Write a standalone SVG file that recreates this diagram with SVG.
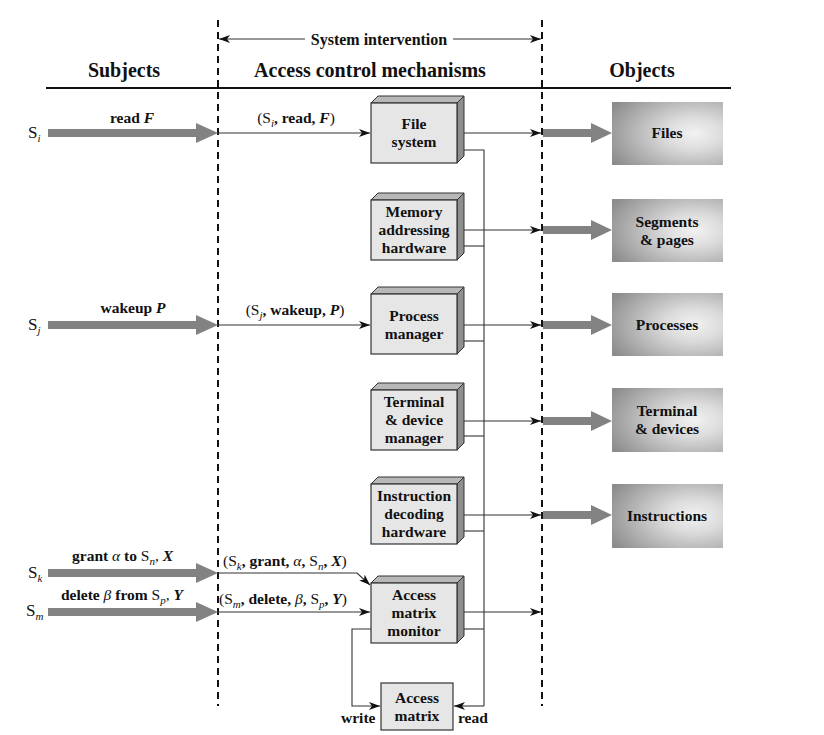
<svg xmlns="http://www.w3.org/2000/svg" width="824" height="735" viewBox="0 0 824 735">
<style>
text{font-family:"Liberation Serif","Times New Roman",serif;fill:#111}
.h{font-size:20px;font-weight:bold;text-anchor:middle}
.n{font-size:15.5px;font-weight:bold;text-anchor:middle}
.l{font-size:15.5px}
.b{font-weight:bold}
.i{font-style:italic}
.bi{font-weight:bold;font-style:italic}
.sub{font-style:italic;font-size:11px}
.front{fill:#e6e6e6;stroke:#333;stroke-width:1.2}
.top{fill:#b8b8b8;stroke:#333;stroke-width:1}
.side{fill:#8e8e8e;stroke:#333;stroke-width:1}
.obj{fill:url(#og)}
.thin{fill:none;stroke:#333;stroke-width:1.1}
.arr{marker-end:url(#ah)}
.thick{fill:#828282}
.dash{stroke:#111;stroke-width:2;stroke-dasharray:7 5;fill:none}
</style>
<defs>
<marker id="ah" markerWidth="11" markerHeight="8" refX="11" refY="4" orient="auto" markerUnits="userSpaceOnUse">
<path d="M0,0 L11,4 L0,8 L3,4 z" fill="#111"/>
</marker>
<radialGradient id="og" cx="0.74" cy="0.5" r="0.85">
<stop offset="0" stop-color="#f2f2f2"/>
<stop offset="0.3" stop-color="#dcdcdc"/>
<stop offset="0.65" stop-color="#b4b4b4"/>
<stop offset="1" stop-color="#8c8c8c"/>
</radialGradient>
</defs>
<rect width="824" height="735" fill="#fff"/>

<!-- frame -->
<g id="frame">
<line class="dash" x1="218" y1="20" x2="218" y2="706"/>
<line class="dash" x1="542" y1="20" x2="542" y2="706"/>
<line x1="46" y1="88" x2="731" y2="88" stroke="#111" stroke-width="2"/>
<text class="h" x="124" y="77">Subjects</text>
<text class="h" x="370" y="77">Access control mechanisms</text>
<text class="h" x="642" y="77">Objects</text>
<text x="379" y="45" style="font-size:16px;font-weight:bold;text-anchor:middle">System intervention</text>
<line class="thin arr" x1="305" y1="39" x2="219" y2="39"/>
<line class="thin arr" x1="453" y1="39" x2="541" y2="39"/>
</g>

<!-- subjects -->
<g id="subjects">
<text class="l" x="28" y="138" style="font-size:17px">S<tspan class="sub" dy="4">i</tspan></text>
<text class="l" x="28" y="330" style="font-size:17px">S<tspan class="sub" dy="4">j</tspan></text>
<text class="l" x="28" y="578" style="font-size:17px">S<tspan class="sub" dy="4">k</tspan></text>
<text class="l" x="26" y="616" style="font-size:17px">S<tspan class="sub" dy="4">m</tspan></text>
<text class="l b" x="132" y="123" text-anchor="middle">read <tspan class="bi">F</tspan></text>
<text class="l b" x="133" y="313" text-anchor="middle">wakeup <tspan class="bi">P</tspan></text>
<text class="l" x="72" y="561"><tspan class="b">grant </tspan><tspan class="i">α</tspan><tspan class="b"> to </tspan>S<tspan class="sub" dy="4">n</tspan><tspan dy="-4">, </tspan><tspan class="bi">X</tspan></text>
<text class="l" x="61" y="600"><tspan class="b">delete </tspan><tspan class="i">β</tspan><tspan class="b"> from </tspan>S<tspan class="sub" dy="4">p</tspan><tspan dy="-4">, </tspan><tspan class="bi">Y</tspan></text>
</g>

<!-- connectors -->
<g id="connectors">
<polygon class="thick" points="48,129 196,129 196,123 218,133 196,143 196,137 48,137"/>
<polygon class="thick" points="48,321 196,321 196,315 218,325 196,335 196,329 48,329"/>
<polygon class="thick" points="48,569 196,569 196,563 218,573 196,583 196,577 48,577"/>
<polygon class="thick" points="48,608 196,608 196,602 218,612 196,622 196,616 48,616"/>
<polygon class="thick" points="543,129 591,129 591,123 612,133 591,143 591,137 543,137"/>
<polygon class="thick" points="543,226 591,226 591,220 612,230 591,240 591,234 543,234"/>
<polygon class="thick" points="543,321 591,321 591,315 612,325 591,335 591,329 543,329"/>
<polygon class="thick" points="543,417 591,417 591,411 612,421 591,431 591,425 543,425"/>
<polygon class="thick" points="543,511 591,511 591,505 612,515 591,525 591,519 543,519"/>

<line class="thin arr" x1="218" y1="133" x2="370" y2="133"/>
<line class="thin arr" x1="218" y1="325" x2="370" y2="325"/>
<polyline class="thin arr" points="218,573 357,573 370,585"/>
<line class="thin arr" x1="218" y1="612" x2="370" y2="612"/>

<line class="thin arr" x1="460" y1="133" x2="541" y2="133"/>
<line class="thin arr" x1="460" y1="230" x2="541" y2="230"/>
<line class="thin arr" x1="460" y1="325" x2="541" y2="325"/>
<line class="thin arr" x1="460" y1="421" x2="541" y2="421"/>
<line class="thin arr" x1="460" y1="515" x2="541" y2="515"/>
<line class="thin arr" x1="460" y1="612" x2="541" y2="612"/>

<polyline class="thin" points="460,150 484,150 484,706"/>
<line class="thin" x1="460" y1="246" x2="484" y2="246"/>
<line class="thin" x1="460" y1="341" x2="484" y2="341"/>
<line class="thin" x1="460" y1="436" x2="484" y2="436"/>
<line class="thin" x1="460" y1="531" x2="484" y2="531"/>
<line class="thin" x1="460" y1="629" x2="484" y2="629"/>
<line class="thin arr" x1="484" y1="706" x2="454" y2="706"/>
<polyline class="thin arr" points="371,629 352,629 352,706 380,706"/>

<text class="l" x="296" y="123" text-anchor="middle">(S<tspan class="sub" dy="4">i</tspan><tspan class="b" dy="-4">, read, </tspan><tspan class="bi">F</tspan>)</text>
<text class="l" x="295" y="315" text-anchor="middle">(S<tspan class="sub" dy="4">j</tspan><tspan class="b" dy="-4">, wakeup, </tspan><tspan class="bi">P</tspan>)</text>
<text class="l" x="223" y="566">(S<tspan class="sub" dy="4">k</tspan><tspan class="b" dy="-4">, grant, </tspan><tspan class="i">α</tspan><tspan class="b">, </tspan>S<tspan class="sub" dy="4">n</tspan><tspan class="b" dy="-4">, </tspan><tspan class="bi">X</tspan>)</text>
<text class="l" x="219" y="604">(S<tspan class="sub" dy="4">m</tspan><tspan class="b" dy="-4">, delete, </tspan><tspan class="i">β</tspan><tspan class="b">, </tspan>S<tspan class="sub" dy="4">p</tspan><tspan class="b" dy="-4">, </tspan><tspan class="bi">Y</tspan>)</text>
<text class="l b" x="341" y="723">write</text>
<text class="l b" x="458" y="723">read</text>
</g>

<!-- mechanisms -->
<g id="file-system">
<polygon class="top" points="371,103 378,96 464,96 457,103"/>
<polygon class="side" points="457,103 464,96 464,156 457,163"/>
<rect class="front" x="371" y="103" width="86" height="60"/>
<text class="n" x="414" y="129">File</text>
<text class="n" x="414" y="147">system</text>
</g>
<g id="memory-addressing-hardware">
<polygon class="top" points="371,200 378,193 464,193 457,200"/>
<polygon class="side" points="457,200 464,193 464,253 457,260"/>
<rect class="front" x="371" y="200" width="86" height="60"/>
<text class="n" x="414" y="217">Memory</text>
<text class="n" x="414" y="235">addressing</text>
<text class="n" x="414" y="253">hardware</text>
</g>
<g id="process-manager">
<polygon class="top" points="371,294 378,287 464,287 457,294"/>
<polygon class="side" points="457,294 464,287 464,347 457,354"/>
<rect class="front" x="371" y="294" width="86" height="60"/>
<text class="n" x="414" y="321">Process</text>
<text class="n" x="414" y="339">manager</text>
</g>
<g id="terminal-device-manager">
<polygon class="top" points="371,390 378,383 464,383 457,390"/>
<polygon class="side" points="457,390 464,383 464,443 457,450"/>
<rect class="front" x="371" y="390" width="86" height="60"/>
<text class="n" x="414" y="407">Terminal</text>
<text class="n" x="414" y="425">&amp; device</text>
<text class="n" x="414" y="443">manager</text>
</g>
<g id="instruction-decoding-hardware">
<polygon class="top" points="371,484 378,477 464,477 457,484"/>
<polygon class="side" points="457,484 464,477 464,537 457,544"/>
<rect class="front" x="371" y="484" width="86" height="60"/>
<text class="n" x="414" y="501">Instruction</text>
<text class="n" x="414" y="519">decoding</text>
<text class="n" x="414" y="537">hardware</text>
</g>
<g id="access-matrix-monitor">
<polygon class="top" points="371,583 378,576 464,576 457,583"/>
<polygon class="side" points="457,583 464,576 464,636 457,643"/>
<rect class="front" x="371" y="583" width="86" height="60"/>
<text class="n" x="414" y="600">Access</text>
<text class="n" x="414" y="618">matrix</text>
<text class="n" x="414" y="636">monitor</text>
</g>
<g id="access-matrix">
<rect class="front" x="381" y="683" width="72" height="47"/>
<text class="n" x="417" y="703">Access</text>
<text class="n" x="417" y="721">matrix</text>
</g>

<!-- objects -->
<g id="files">
<rect class="obj" x="612" y="102" width="111" height="63"/>
<text class="n" x="667" y="138">Files</text>
</g>
<g id="segments-pages">
<rect class="obj" x="612" y="199" width="111" height="63"/>
<text class="n" x="667" y="227">Segments</text>
<text class="n" x="667" y="245">&amp; pages</text>
</g>
<g id="processes">
<rect class="obj" x="612" y="293" width="111" height="63"/>
<text class="n" x="667" y="330">Processes</text>
</g>
<g id="terminal-devices">
<rect class="obj" x="612" y="388" width="111" height="64"/>
<text class="n" x="667" y="416">Terminal</text>
<text class="n" x="667" y="434">&amp; devices</text>
</g>
<g id="instructions">
<rect class="obj" x="612" y="484" width="111" height="64"/>
<text class="n" x="667" y="521">Instructions</text>
</g>
</svg>
